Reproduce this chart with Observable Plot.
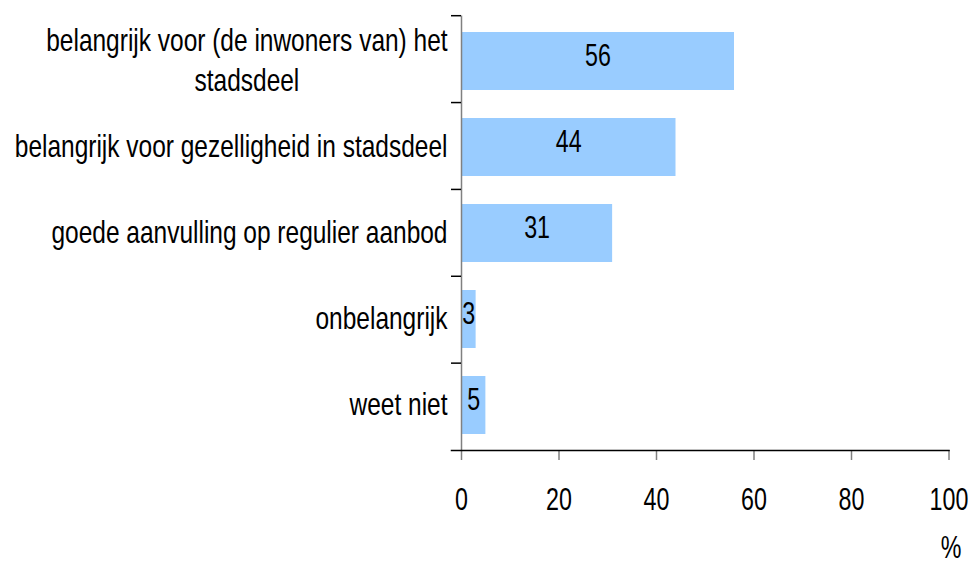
<!DOCTYPE html>
<html>
<head>
<meta charset="utf-8">
<script src="https://cdn.jsdelivr.net/npm/d3@7"></script>
<script src="https://cdn.jsdelivr.net/npm/@observablehq/plot@0.6"></script>
<style>
  html, body { margin: 0; padding: 0; background: #fff; }
  #chart svg { display: block; }
</style>
</head>
<body>
<div id="chart"></div>
<script>
const categories = [
  "belangrijk voor (de inwoners van) het\nstadsdeel",
  "belangrijk voor gezelligheid in stadsdeel",
  "goede aanvulling op regulier aanbod",
  "onbelangrijk",
  "weet niet"
];
const values = [56, 44, 31, 3, 5];
const xTicks = [0, 20, 40, 60, 80, 100];
const unitLabel = "%";

const data = categories.map((c, i) => ({label: c, value: values[i]}));
const FONT = "'Liberation Sans', Arial, sans-serif";
const FS = 31;
const SX_NUM = 0.75;  // horizontal condensation of numbers
const SX_LABEL = 0.79; // horizontal condensation of category labels

const chart = Plot.plot({
  width: 975,
  height: 565,
  marginLeft: 461,
  marginRight: 26.5,
  marginTop: 15.7,
  marginBottom: 115,
  style: {fontFamily: FONT, fontSize: FS + "px", color: "black", background: "white"},
  x: {domain: [0, 100]},
  y: {domain: categories, paddingInner: 0.32, paddingOuter: 0.16},
  marks: [
    Plot.barX(data, {x: "value", y: "label", fill: "#99ccff"}),
    Plot.text(data, {x: d => d.value / 2, y: "label", text: d => String(d.value), dy: -5, fontSize: FS, fill: "black"}),
    Plot.axisX({ticks: xTicks, tickSize: 10, tickPadding: 27, stroke: "#808080", strokeWidth: 1.5, fill: "black", fontSize: FS, label: null}),
    Plot.axisY({tickSize: 0, tickPadding: 14, dy: -3, fontSize: FS, lineHeight: 1.29, label: null, fill: "black"}),
    Plot.frame({anchor: "left", stroke: "#808080", strokeWidth: 1.5}),
    Plot.frame({anchor: "bottom", stroke: "black", strokeWidth: 1.5, insetLeft: -10}),
    Plot.text([unitLabel], {frameAnchor: "bottom-right", text: d => d, dx: 2, dy: 107, textAnchor: "middle", fontSize: FS, fill: "black"})
  ]
});

document.getElementById("chart").appendChild(chart);

const svg = d3.select(chart);

// boundary ticks between categories, from the y scale
const ys = chart.scale("y");
const r0 = Math.min(...ys.range), r1 = Math.max(...ys.range);
const step = (r1 - r0) / categories.length;
const x0 = chart.scale("x").apply(0);
for (let i = 0; i < categories.length; i++) {
  const yy = r0 + i * step;
  svg.append("line").attr("x1", x0 - 10).attr("x2", x0).attr("y1", yy).attr("y2", yy)
    .attr("stroke", "black").attr("stroke-width", 1.5);
}

// condense all text horizontally around its anchor
svg.selectAll("text").each(function() {
  const isLabel = this.closest("g[aria-label='y-axis tick label']") != null;
  const s = isLabel ? SX_LABEL : SX_NUM;
  const ax = parseFloat(this.getAttribute("x")) || 0;
  const tr = this.getAttribute("transform") || "";
  this.setAttribute("transform", `${tr} translate(${ax},0) scale(${s},1) translate(${-ax},0)`);
});

// center multi-line category labels within their block, keep right edge
svg.selectAll("g[aria-label='y-axis tick label'] text").each(function() {
  const spans = d3.select(this).selectAll("tspan");
  if (spans.size() > 1) {
    const bb = this.getBBox();
    const cx = bb.x + bb.width / 2;
    d3.select(this).attr("text-anchor", "middle");
    spans.attr("x", cx);
  }
});
</script>
</body>
</html>
